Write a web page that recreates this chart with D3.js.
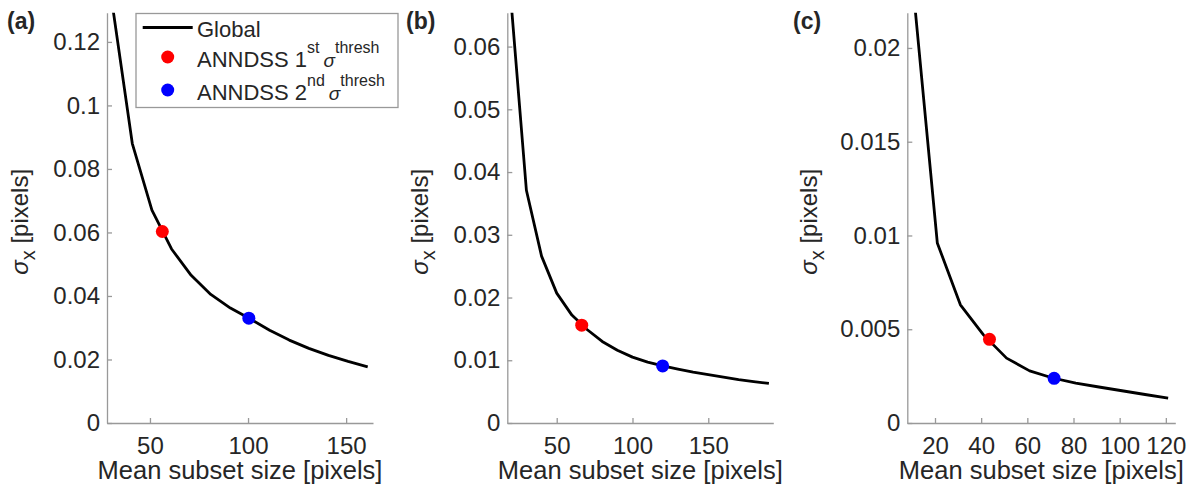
<!DOCTYPE html>
<html>
<head>
<meta charset="utf-8">
<script src="https://cdn.jsdelivr.net/npm/d3@7"></script>
<style>
body{margin:0;background:#fff;}
svg text{font-family:"Liberation Sans",Arial,Helvetica,sans-serif;fill:#262626;}
.axis path,.axis line{stroke:#999;stroke-width:1.3;}
.axis text{font-size:24px;}
.curve{fill:none;stroke:#000;stroke-width:2.8;stroke-linejoin:round;}
</style>
</head>
<body>
<div id="chart"></div>
<script>
// mean subset size / sigma_x
var sizeA = [31,41,51,61,71,81,91,101,111,121,131,141,151,161];
var sigmaA = [0.131,0.088,0.067,0.0548,0.0465,0.0405,0.0362,0.0328,0.0292,0.0261,0.0235,0.0213,0.0194,0.0177];
var sizeB = [20,30,40,50,60,70,80,90,100,110,120,130,140,150,160,170,180,190];
var sigmaB = [0.0668,0.0371,0.0266,0.0207,0.0172,0.0149,0.0130,0.0116,0.0105,0.0097,0.0091,0.0086,0.0081,0.0077,0.0073,0.0069,0.0066,0.0063];
var sizeC = [11,21,31,41,51,61,71,81,91,101,111,121];
var sigmaC = [0.0226,0.0096,0.0063,0.0047,0.00346,0.00278,0.00240,0.00213,0.00192,0.00172,0.00152,0.00133];
// ANNDSS threshold points, one per panel
var thresh1Size = [56.3,66.5,43.6];
var thresh1Sigma = [0.0603,0.0156,0.00446];
var thresh2Size = [100.4,119.9,71.6];
var thresh2Sigma = [0.0330,0.0091,0.00238];
// ticks
var xTicksA = [50,100,150];
var xTicksB = [50,100,150];
var xTicksC = [20,40,60,80,100,120];
var yTicksA = [0,0.02,0.04,0.06,0.08,0.1,0.12];
var yTicksB = [0,0.01,0.02,0.03,0.04,0.05,0.06];
var yTicksC = [0,0.005,0.01,0.015,0.02];
var panelLabels = ["(a)","(b)","(c)"];

var panels = [
	{size:sizeA, sigma:sigmaA, xt:xTicksA, yt:yTicksA, left:107, w:266, xd:[28.1,163.7], ymax:0.1292, lx:7, ylx:28},
	{size:sizeB, sigma:sigmaB, xt:xTicksB, yt:yTicksB, left:507.3, w:266, xd:[17.4,192.9], ymax:0.0654, lx:406, ylx:428},
	{size:sizeC, sigma:sigmaC, xt:xTicksC, yt:yTicksC, left:907.3, w:268, xd:[8.0,124.1], ymax:0.02188, lx:793, ylx:817}
];
var plotTop = 12.7, plotBottom = 423;

var svg = d3.select("#chart").append("svg")
			.attr("width",1195)
			.attr("height",492);

var fmt = function(d){ return d===0 ? "0" : String(+d.toFixed(4)); };

panels.forEach(function(p,i){
	var x = d3.scaleLinear().domain(p.xd).range([p.left,p.left+p.w]);
	var y = d3.scaleLinear().domain([0,p.ymax]).range([plotBottom,plotTop]);

	svg.append("defs").append("clipPath").attr("id","clip"+i)
		.append("rect").attr("x",p.left).attr("y",plotTop).attr("width",p.w).attr("height",plotBottom-plotTop);

	svg.append("g").attr("class","axis")
		.attr("transform","translate(0,"+plotBottom+")")
		.call(d3.axisBottom(x).tickValues(p.xt).tickSizeInner(-5).tickSizeOuter(0).tickPadding(14).tickFormat(d3.format("d")));
	svg.append("g").attr("class","axis")
		.attr("transform","translate("+p.left+",0)")
		.call(d3.axisLeft(y).tickValues(p.yt).tickSizeInner(-5).tickSizeOuter(0).tickPadding(7).tickFormat(fmt));

	var line = d3.line().x(function(d){ return x(d[0]); }).y(function(d){ return y(d[1]); });
	svg.append("path")
		.datum(d3.zip(p.size,p.sigma))
		.attr("class","curve")
		.attr("clip-path","url(#clip"+i+")")
		.attr("d",line);

	svg.append("circle").attr("cx",x(thresh1Size[i])).attr("cy",y(thresh1Sigma[i])).attr("r",6.5).attr("fill","#ff0000");
	svg.append("circle").attr("cx",x(thresh2Size[i])).attr("cy",y(thresh2Sigma[i])).attr("r",6.5).attr("fill","#0000ff");

	svg.append("text")
		.attr("x",p.left+p.w/2).attr("y",478.5)
		.attr("text-anchor","middle")
		.style("font-size","25.5px")
		.text("Mean subset size [pixels]");

	var yl = svg.append("text")
		.attr("transform","translate("+p.ylx+","+((plotTop+plotBottom)/2+4)+") rotate(-90)")
		.attr("text-anchor","middle")
		.style("font-size","24px");
	yl.append("tspan").style("font-style","italic").text("σ");
	yl.append("tspan").attr("dy",7).style("font-size","20px").text("x");
	yl.append("tspan").attr("dy",-7).text(" [pixels]");

	svg.append("text")
		.attr("x",p.lx).attr("y",28.5)
		.style("font-size","23px").style("font-weight","bold")
		.text(panelLabels[i]);
});

// legend in panel (a)
var lg = svg.append("g");
lg.append("rect").attr("x",136).attr("y",13.5).attr("width",262).attr("height",94)
	.attr("fill","#fff").attr("stroke","#999").attr("stroke-width",1.3);
lg.append("line").attr("x1",142.7).attr("x2",192.7).attr("y1",27.5).attr("y2",27.5)
	.attr("stroke","#000").attr("stroke-width",2.8);
lg.append("text").attr("x",197).attr("y",36.5).style("font-size","22px").text("Global");
lg.append("circle").attr("cx",167.7).attr("cy",57).attr("r",6.5).attr("fill","#ff0000");
lg.append("circle").attr("cx",167.7).attr("cy",90).attr("r",6.5).attr("fill","#0000ff");

var rows = [["1","st",67],["2","nd",99.5]];
rows.forEach(function(r){
	var t = lg.append("text").attr("x",197).attr("y",r[2]).style("font-size","22px");
	t.append("tspan").text("ANNDSS "+r[0]);
	t.append("tspan").attr("dy",-14).style("font-size","16px").text(r[1]);
	t.append("tspan").attr("dy",14).attr("dx",4).style("font-style","italic").style("font-size","19px").text("σ");
	t.append("tspan").attr("dy",-14).style("font-size","16px").text("thresh");
});
</script>
</body>
</html>
